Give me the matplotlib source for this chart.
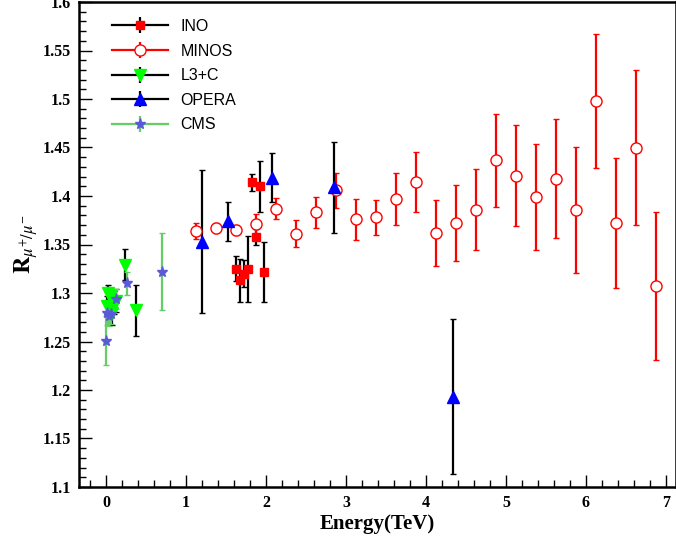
import matplotlib
matplotlib.use("Agg")
import matplotlib.pyplot as plt
from matplotlib.lines import Line2D
from matplotlib.ticker import MultipleLocator

# INO (red squares, black error bars)
ino_e = [1.625, 1.675, 1.725, 1.775, 1.825, 1.875, 1.925, 1.97]
ino_r = [1.325, 1.313, 1.320, 1.325, 1.414, 1.358, 1.410, 1.322]
ino_err = [0.013, 0.022, 0.014, 0.034, 0.009, 0.008, 0.026, 0.031]

# MINOS (red open circles)
minos_e = [1.125, 1.375, 1.625, 1.875, 2.125, 2.375, 2.625, 2.875, 3.125, 3.375,
           3.625, 3.875, 4.125, 4.375, 4.625, 4.875, 5.125, 5.375, 5.625, 5.875,
           6.125, 6.375, 6.625, 6.875]
minos_r = [1.364, 1.367, 1.365, 1.371, 1.387, 1.361, 1.383, 1.406, 1.376, 1.378,
           1.397, 1.414, 1.362, 1.372, 1.386, 1.437, 1.421, 1.399, 1.418, 1.386,
           1.498, 1.372, 1.450, 1.307]
minos_err = [0.008, 0.005, 0.005, 0.010, 0.011, 0.014, 0.016, 0.018, 0.021, 0.018,
             0.027, 0.031, 0.034, 0.039, 0.042, 0.048, 0.052, 0.055, 0.061, 0.065,
             0.069, 0.067, 0.080, 0.076]

# L3+C (green inverted triangles, black error bars)
l3c_e = [0.01, 0.03, 0.045, 0.07, 0.10, 0.13, 0.24, 0.375]
l3c_r = [1.287, 1.300, 1.297, 1.279, 1.290, 1.292, 1.329, 1.282]
l3c_err = [0.010, 0.008, 0.008, 0.012, 0.012, 0.012, 0.016, 0.026]

# OPERA (blue triangles, black error bars)
opera_e = [1.196, 1.525, 2.071, 2.846, 4.34]
opera_r = [1.353, 1.374, 1.419, 1.409, 1.193]
opera_err = [0.074, 0.020, 0.025, 0.047, 0.080]

# CMS (slate-blue stars, light green error bars)
cms_e = [0.0, 0.01, 0.035, 0.06, 0.125, 0.26, 0.70]
cms_r = [1.251, 1.279, 1.276, 1.278, 1.294, 1.310, 1.322]
cms_err = [0.025, 0.012, 0.010, 0.010, 0.010, 0.012, 0.040]

series = [
    ("INO", ino_e, ino_r, ino_err, "s", "red", "red", "black", 6),
    ("MINOS", minos_e, minos_r, minos_err, "o", "white", "red", "red", 8),
    ("L3+C", l3c_e, l3c_r, l3c_err, "v", "#00ff00", "#00ff00", "black", 8),
    ("OPERA", opera_e, opera_r, opera_err, "^", "blue", "blue", "black", 8),
    ("CMS", cms_e, cms_r, cms_err, "*", "#5a5ad8", "#5a5ad8", "#66cc66", 8),
]

plt.rcParams["mathtext.fontset"] = "stix"

fig = plt.figure(figsize=(6.76, 5.44), dpi=100)
ax = fig.add_axes([79 / 676, 57 / 544, 597 / 676, 485 / 544])

handles = []
labels = []
for name, e, r, err, m, fc, mec, ecol, ms in series:
    ax.errorbar(e, r, yerr=err, fmt=m, ms=ms, mfc=fc, mec=mec, mew=1.0,
                ecolor=ecol, elinewidth=1.6, capsize=2, capthick=1.6, zorder=3)
    h = (Line2D([], [], color=ecol, lw=1.6),
         Line2D([], [], ls="none", marker="|", ms=12, mew=1.6, color=ecol),
         Line2D([], [], ls="none", marker=m, ms=ms, mfc=fc, mec=mec, mew=1.0))
    handles.append(h)
    labels.append(name)

ax.legend(handles, labels, loc="upper left", bbox_to_anchor=(0.056, 0.965),
          frameon=False, prop={"family": "Liberation Sans", "size": 11.5},
          handlelength=3.5, handletextpad=0.75, labelspacing=0.6,
          borderaxespad=0, borderpad=0)

ax.set_xlim(-0.3375, 7.125)
ax.set_ylim(1.1, 1.6)
ax.xaxis.set_major_locator(MultipleLocator(1))
ax.xaxis.set_minor_locator(MultipleLocator(0.2))
ax.yaxis.set_major_locator(MultipleLocator(0.05))
ax.yaxis.set_minor_locator(MultipleLocator(0.01))
ax.yaxis.set_major_formatter(plt.FuncFormatter(lambda v, p: f"{v:g}"))
ax.tick_params(which="both", direction="in", top=False, right=False, width=1.0)
ax.tick_params(which="major", length=9, pad=6)
ax.tick_params(which="minor", length=5)
for lbl in ax.get_xticklabels() + ax.get_yticklabels():
    lbl.set_fontfamily("Liberation Serif")
    lbl.set_fontweight("bold")
    lbl.set_fontsize(11.5)
for s in ax.spines.values():
    s.set_linewidth(1.8)

ax.set_xlabel("Energy(TeV)", fontfamily="Liberation Serif", fontweight="bold",
              fontsize=15, labelpad=2)
ax.set_ylabel(r"$\mathbf{R}_{\mu^{+}/\mu^{-}}$", fontsize=17, labelpad=2)

fig.savefig("out.png", dpi=100)
